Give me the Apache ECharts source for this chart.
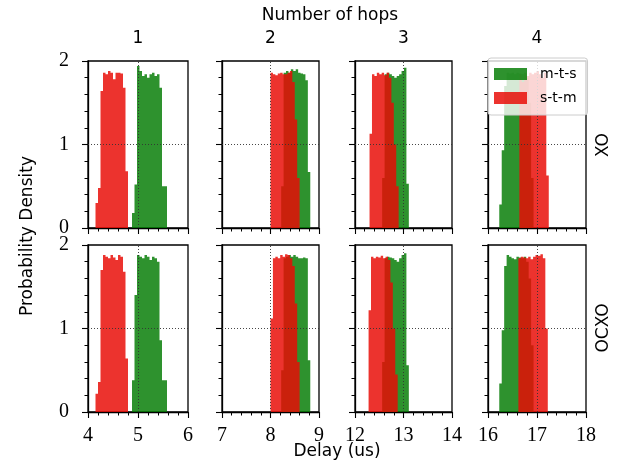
<!DOCTYPE html>
<html>
<head>
<meta charset="utf-8">
<script src="https://cdn.jsdelivr.net/npm/echarts@6/dist/echarts.min.js"></script>
<style>
html,body{margin:0;padding:0;background:#fff;}
#chart{width:623px;height:472px;}
</style>
</head>
<body>
<div id="chart"></div>
<script>
// ---------------- data ----------------
const binWidth = 0.05;
const hopLabels = ['1', '2', '3', '4'];
const rowLabels = ['XO', 'OCXO'];
const xMins = [4, 7, 12, 16];
const xMaxs = [6, 9, 14, 18];
const xMarks = [5, 8, 13, 17];

// m-t-s (green) bin starts per hop column, same for XO and OCXO
const mtsStarts = [4.88, 8.22, 12.56, 16.23];
// s-t-m (red) bin starts
const stmStartsXO = [4.15, 8.00, 12.30, 16.64];
const stmStartsOCXO = [4.15, 8.00, 12.28, 16.62];

// XO row
const mtsXO1 = [0.18, 0.52, 1.94, 1.88, 1.82, 1.84, 1.80, 1.84, 1.86, 1.82, 1.84, 1.68, 0.50, 0.50];
const stmXO1 = [0.30, 0.48, 1.64, 1.86, 1.84, 1.88, 1.86, 1.78, 1.86, 1.86, 1.85, 1.68, 0.68];
const mtsXO2 = [0.50, 1.86, 1.88, 1.86, 1.90, 1.88, 1.90, 1.86, 1.85, 1.84, 1.77, 0.67];
const stmXO2 = [1.86, 1.84, 1.83, 1.85, 1.86, 1.84, 1.84, 1.86, 1.88, 1.75, 1.30, 0.60];
const mtsXO3 = [0.60, 1.84, 1.86, 1.84, 1.82, 1.80, 1.82, 1.84, 1.88, 1.92, 0.53];
const stmXO3 = [1.13, 1.84, 1.82, 1.86, 1.84, 1.86, 1.83, 1.86, 1.80, 1.50, 1.00, 0.50];
const mtsXO4 = [0.28, 0.93, 1.70, 1.86, 1.85, 1.86, 1.84, 1.86, 1.85, 1.84, 1.86, 1.80, 1.50, 0.60];
const stmXO4 = [1.84, 1.75, 1.85, 1.82, 1.86, 1.84, 1.86, 1.88, 1.84, 1.80, 1.86, 0.63];

// OCXO row
const mtsOCXO1 = [0.38, 1.40, 1.88, 1.86, 1.84, 1.88, 1.86, 1.82, 1.86, 1.84, 1.80, 0.86, 0.38, 0.38];
const stmOCXO1 = [0.22, 0.36, 1.70, 1.88, 1.86, 1.84, 1.88, 1.85, 1.82, 1.88, 1.86, 1.68, 0.64];
const mtsOCXO2 = [0.50, 1.84, 1.86, 1.88, 1.86, 1.88, 1.86, 1.84, 1.84, 1.85, 1.84, 0.62];
const stmOCXO2 = [1.12, 1.84, 1.86, 1.84, 1.88, 1.86, 1.89, 1.88, 1.84, 1.75, 1.30, 0.60];
const mtsOCXO3 = [0.60, 1.84, 1.86, 1.85, 1.84, 1.82, 1.80, 1.84, 1.88, 1.90, 0.56];
const stmOCXO3 = [1.22, 1.86, 1.84, 1.86, 1.85, 1.87, 1.84, 1.86, 1.82, 1.55, 1.00, 0.45];
const mtsOCXO4 = [0.34, 0.98, 1.75, 1.88, 1.86, 1.84, 1.83, 1.86, 1.85, 1.84, 1.86, 1.80, 1.60, 0.80];
const stmOCXO4 = [1.84, 1.86, 1.85, 1.84, 1.86, 1.83, 1.86, 1.88, 1.87, 1.89, 1.84, 1.00];

const mtsRows = [[mtsXO1, mtsXO2, mtsXO3, mtsXO4], [mtsOCXO1, mtsOCXO2, mtsOCXO3, mtsOCXO4]];
const stmRows = [[stmXO1, stmXO2, stmXO3, stmXO4], [stmOCXO1, stmOCXO2, stmOCXO3, stmOCXO4]];
const stmStartRows = [stmStartsXO, stmStartsOCXO];

// ---------------- layout / style ----------------
const colLeft = [88, 222, 355, 488];
const colWidth = [100, 97, 97, 98];
const rowTop = [61, 245];
const rowHeight = 167;
const GREEN = 'rgba(0,122,0,0.82)';
const RED = 'rgba(232,12,6,0.84)';
const SANS = 'DejaVu Sans';
const SERIF = 'Liberation Serif';

function toBins(start, heights) {
  return heights.map((h, i) => [start + i * binWidth, start + (i + 1) * binWidth, h]);
}

// draws the whole histogram of a series as one step-shaped polygon (no seams between bins)
function makeRenderer(bins) {
  return function (params, api) {
    if (params.dataIndex !== 0) return null;
    const pts = [api.coord([bins[0][0], 0])];
    bins.forEach(b => {
      pts.push(api.coord([b[0], b[2]]));
      pts.push(api.coord([b[1], b[2]]));
    });
    pts.push(api.coord([bins[bins.length - 1][1], 0]));
    return { type: 'polygon', shape: { points: pts }, style: api.style() };
  };
}

const grids = [], xAxes = [], yAxes = [], series = [];
for (let r = 0; r < 2; r++) {
  for (let c = 0; c < 4; c++) {
    const idx = r * 4 + c;
    grids.push({
      left: colLeft[c], top: rowTop[r], width: colWidth[c], height: rowHeight,
      show: true, borderColor: '#000', borderWidth: 1.3, backgroundColor: 'transparent'
    });
    xAxes.push({
      type: 'value', gridIndex: idx, min: xMins[c], max: xMaxs[c], interval: 1,
      axisLine: { show: true, onZero: false, lineStyle: { color: '#000', width: 1.3 } },
      axisTick: { show: true, inside: false, length: 6, lineStyle: { color: '#000', width: 1.1 } },
      minorTick: { show: true, splitNumber: 5, length: 3.5, lineStyle: { color: '#000', width: 1 } },
      splitLine: { show: false },
      axisLabel: {
        show: r === 1, margin: 14, color: '#000', fontFamily: SERIF, fontSize: 20,
        showMinLabel: true, showMaxLabel: true
      }
    });
    yAxes.push({
      type: 'value', gridIndex: idx, min: 0, max: 2, interval: 1,
      axisLine: { show: true, onZero: false, lineStyle: { color: '#000', width: 1.3 } },
      axisTick: { show: true, inside: false, length: 6, lineStyle: { color: '#000', width: 1.1 } },
      minorTick: { show: true, splitNumber: 5, length: 3.5, lineStyle: { color: '#000', width: 1 } },
      splitLine: { show: false },
      axisLabel: { show: c === 0, margin: 19, color: '#000', fontFamily: SERIF, fontSize: 20 }
    });
    const gBins = toBins(mtsStarts[c], mtsRows[r][c]);
    const rBins = toBins(stmStartRows[r][c], stmRows[r][c]);
    series.push({
      type: 'custom', name: 'm-t-s', xAxisIndex: idx, yAxisIndex: idx,
      renderItem: makeRenderer(gBins), encode: { x: [0, 1], y: 2 },
      itemStyle: { color: GREEN }, z: 2, silent: true,
      data: gBins
    });
    series.push({
      type: 'custom', name: 's-t-m', xAxisIndex: idx, yAxisIndex: idx,
      renderItem: makeRenderer(rBins), encode: { x: [0, 1], y: 2 },
      itemStyle: { color: RED }, z: 3, silent: true,
      data: rBins,
      markLine: {
        silent: true, symbol: 'none', z: 5, animation: false,
        label: { show: false },
        lineStyle: { color: '#333', width: 1, type: [1, 2], opacity: 0.9 },
        data: [{ xAxis: xMarks[c] }, { yAxis: 1 }]
      }
    });
  }
}

const txt = (text, x, y, size, rot) => ({
  type: 'text', x: x, y: y, rotation: rot || 0, silent: true,
  style: { text: text, fill: '#000', font: size + 'px "' + SANS + '"', textAlign: 'center', textVerticalAlign: 'middle' }
});

const graphics = [
  txt('Number of hops', 330, 16, 17),
  txt('Probability Density', 28, 236, 17, Math.PI / 2),
  txt('Delay (us)', 337, 452, 17),
  txt(rowLabels[0], 604, 145, 17, Math.PI / 2),
  txt(rowLabels[1], 604, 328, 17, Math.PI / 2)
];
for (let c = 0; c < 4; c++) {
  graphics.push(txt(hopLabels[c], colLeft[c] + colWidth[c] / 2, 39, 17));
}

const chart = echarts.init(document.getElementById('chart'), null, { renderer: 'canvas' });
chart.setOption({
  animation: false,
  backgroundColor: '#fff',
  grid: grids,
  xAxis: xAxes,
  yAxis: yAxes,
  series: series,
  legend: {
    data: ['m-t-s', 's-t-m'],
    orient: 'vertical', left: 488, top: 58, z: 10,
    icon: 'rect', itemWidth: 33, itemHeight: 12, itemGap: 10,
    backgroundColor: 'rgba(255,255,255,0.8)', borderColor: '#ccc', borderWidth: 1, borderRadius: 3,
    padding: [9, 11, 10, 6],
    selectedMode: false,
    textStyle: { fontFamily: SANS, fontSize: 14, color: '#000', lineHeight: 14, padding: [0, 0, 0, 8] }
  },
  graphic: graphics
});
</script>
</body>
</html>
